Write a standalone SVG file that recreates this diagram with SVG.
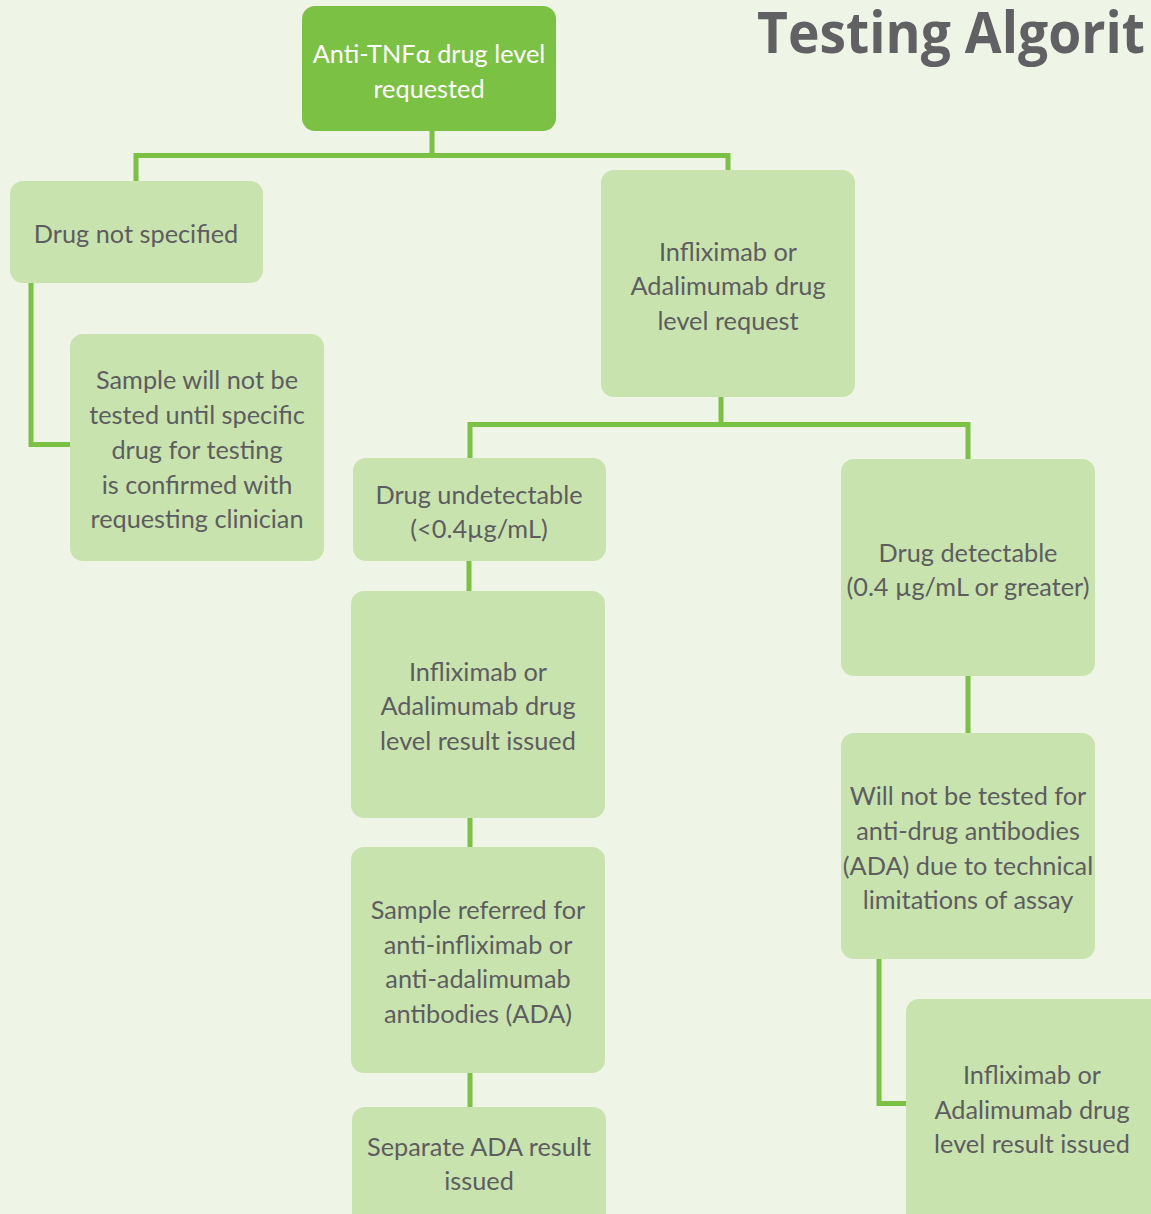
<svg xmlns="http://www.w3.org/2000/svg" width="1151" height="1214" viewBox="0 0 1151 1214">
<style>
.bg{fill:#EEF4E6}
.n{fill:#C9E3AF}
.top{fill:#7BC143}
.c{fill:none;stroke:#7BC143;stroke-width:5}
text{font-family:Lato,"Open Sans","Liberation Sans",sans-serif;font-size:25.3px;fill:#5D5D60;text-anchor:middle}
.w{fill:#FFFFFF}
.title{font-family:"Open Sans","Liberation Sans",sans-serif;font-weight:bold;font-size:58px;fill:#616163;text-anchor:start}
</style>
<rect class="bg" x="0" y="0" width="1151" height="1214"/>
<text class="title" x="757" y="53" textLength="388" lengthAdjust="spacingAndGlyphs">Testing Algorit</text>
<g id="connectors">
<path class="c" d="M432,131 V155.5 M136,181 V155.5 H728 V170"/>
<path class="c" d="M31,283 V444.5 H70"/>
<path class="c" d="M721,397 V424.5 M470,458 V424.5 H968 V459"/>
<path class="c" d="M469,561 V591"/>
<path class="c" d="M470,818 V847"/>
<path class="c" d="M470,1073 V1107"/>
<path class="c" d="M968,676 V733"/>
<path class="c" d="M879,959 V1103.5 H906"/>
</g>
<g id="n_top"><rect class="top" x="302" y="6" width="254" height="125" rx="13"/>
<text class="w" x="429" y="63">Anti-TNFα drug level</text><text class="w" x="429" y="98">requested</text></g>
<g id="n_notspec"><rect class="n" x="10" y="181" width="253" height="102" rx="13"/>
<text x="136" y="243">Drug not specified</text></g>
<g id="n_sample"><rect class="n" x="70" y="334" width="254" height="227" rx="13"/>
<text x="197" y="389">Sample will not be</text><text x="197" y="424">tested until specific</text><text x="197" y="459">drug for testing</text><text x="197" y="494">is confirmed with</text><text x="197" y="528">requesting clinician</text></g>
<g id="n_request"><rect class="n" x="601" y="170" width="254" height="227" rx="13"/>
<text x="728" y="261">Infliximab or</text><text x="728" y="295">Adalimumab drug</text><text x="728" y="330">level request</text></g>
<g id="n_undet"><rect class="n" x="353" y="458" width="253" height="103" rx="13"/>
<text x="479" y="504">Drug undetectable</text><text x="479" y="538">(&lt;0.4µg/mL)</text></g>
<g id="n_result1"><rect class="n" x="351" y="591" width="254" height="227" rx="13"/>
<text x="478" y="681">Infliximab or</text><text x="478" y="715">Adalimumab drug</text><text x="478" y="750">level result issued</text></g>
<g id="n_referred"><rect class="n" x="351" y="847" width="254" height="226" rx="13"/>
<text x="478" y="919">Sample referred for</text><text x="478" y="954">anti-infliximab or</text><text x="478" y="988">anti-adalimumab</text><text x="478" y="1023">antibodies (ADA)</text></g>
<g id="n_ada"><rect class="n" x="352" y="1107" width="254" height="130" rx="13"/>
<text x="479" y="1156">Separate ADA result</text><text x="479" y="1190">issued</text></g>
<g id="n_det"><rect class="n" x="841" y="459" width="254" height="217" rx="13"/>
<text x="968" y="562">Drug detectable</text><text x="968" y="596">(0.4 µg/mL or greater)</text></g>
<g id="n_notested"><rect class="n" x="841" y="733" width="254" height="226" rx="13"/>
<text x="968" y="805">Will not be tested for</text><text x="968" y="840">anti-drug antibodies</text><text x="968" y="875">(ADA) due to technical</text><text x="968" y="909">limitations of assay</text></g>
<g id="n_result2"><rect class="n" x="906" y="999" width="270" height="240" rx="13"/>
<text x="1032" y="1084">Infliximab or</text><text x="1032" y="1119">Adalimumab drug</text><text x="1032" y="1153">level result issued</text></g>
</svg>
